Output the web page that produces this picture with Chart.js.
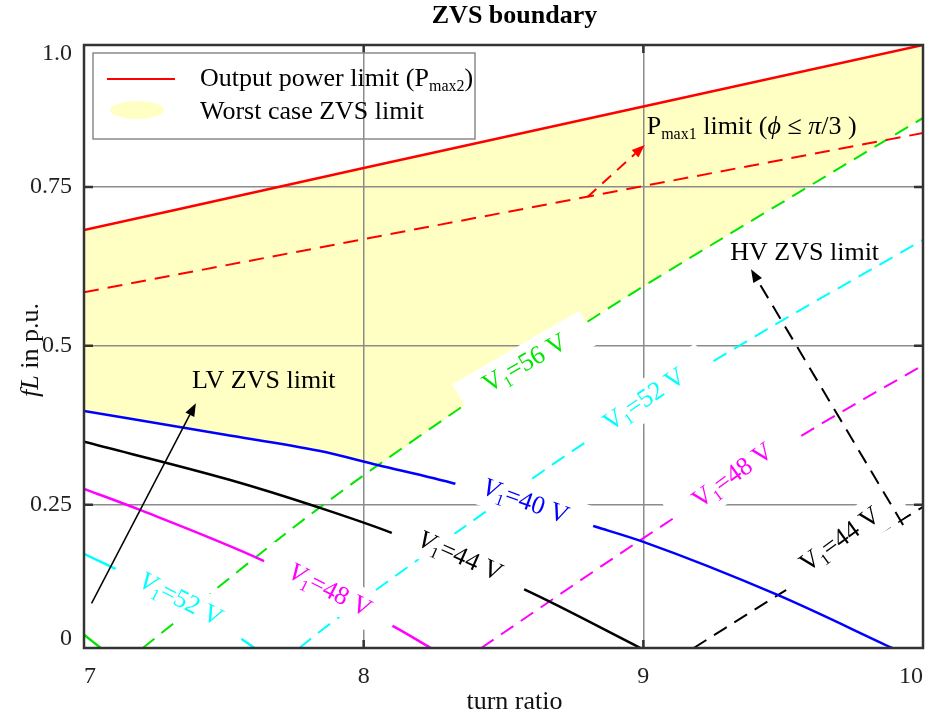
<!DOCTYPE html>
<html>
<head>
<meta charset="utf-8">
<title>ZVS boundary</title>
<script src="https://cdn.jsdelivr.net/npm/chart.js@4.4.1/dist/chart.umd.min.js"></script>
<style>
    html, body { margin: 0; padding: 0; background: #fff; }
    #wrap { width: 937px; height: 719px; }
</style>
</head>
<body>
<div id="wrap"><canvas id="zvsChart" width="937" height="719"></canvas></div>
<script>
// axes
const xTicks = [7, 8, 9, 10];
const yTickValues = [0.015, 0.2376, 0.5013, 0.7645, 0.985];
const yTickLabels = ['0', '0.25', '0.5', '0.75', '1.0'];

// output power limit Pmax2 (solid red) and Pmax1 limit (dashed red)
const pmax2N = [7, 8, 9, 10];
const pmax2FL = [0.693, 0.796, 0.898, 1.0];
const pmax1N = [7, 8, 9, 10];
const pmax1FL = [0.590, 0.678, 0.766, 0.854];

// lower edge of the worst case ZVS area
const worstN = [7, 7.5, 7.84, 8.055, 8.37, 8.81, 8.98, 9.59, 10];
const worstFL = [0.393, 0.354, 0.327, 0.303, 0.406, 0.544, 0.594, 0.765, 0.879];

// LV side ZVS limits (solid)
const lv40N = [7, 7.5, 7.84, 8.05, 8.33, 8.83, 9.0, 9.48, 9.89];
const lv40FL = [0.393, 0.354, 0.327, 0.3035, 0.272, 0.201, 0.176, 0.088, 0];
const lv44N = [7, 7.52, 7.84, 8.1, 8.58, 8.99];
const lv44FL = [0.342, 0.279, 0.233, 0.191, 0.096, 0];
const lv48N = [7, 7.2, 7.64, 8.11, 8.24];
const lv48FL = [0.264, 0.229, 0.145, 0.035, 0];
const lv52N = [7, 7.13, 7.54, 7.61];
const lv52FL = [0.156, 0.127, 0.022, 0];
const lv56N = [7, 7.06];
const lv56FL = [0.022, 0];

// HV side ZVS limits (dashed)
const hv56N = [7.21, 7.84, 8.37, 8.81, 8.98, 9.59, 10];
const hv56FL = [0, 0.232, 0.406, 0.544, 0.594, 0.765, 0.879];
const hv52N = [7.77, 7.84, 8.43, 8.77, 9.27, 10];
const hv52FL = [0, 0.026, 0.224, 0.334, 0.481, 0.677];
const hv48N = [8.42, 8.98, 9.58, 10];
const hv48FL = [0, 0.176, 0.356, 0.469];
const hv44N = [9.18, 9.51, 10];
const hv44FL = [0, 0.096, 0.234];

// V1 labels on the curves
const vLabelVolts = ['56', '52', '48', '44', '40', '44', '48', '52'];
const vLabelN = [8.578, 9.005, 9.321, 9.705, 8.578, 8.344, 7.878, 7.345];
const vLabelFL = [0.471, 0.411, 0.285, 0.179, 0.242, 0.151, 0.0945, 0.0796];
const vLabelDeg = [-30, -34, -36, -36, 20, 24, 27, 27];

// free notes and arrows
const noteText = ['LV ZVS limit', 'HV ZVS limit'];
const noteN = [7.643, 9.577];
const noteFL = [0.443, 0.655];
const pmax1NoteN = 9.012;
const pmax1NoteFL = 0.864;
const arrowFromN = [7.027, 9.929, 8.80];
const arrowFromFL = [0.074, 0.204, 0.748];
const arrowToN = [7.40, 9.385, 9.005];
const arrowToFL = [0.406, 0.628, 0.834];

const SERIF = '"Liberation Serif", "Times New Roman", serif';
const RED = '#ff0000', BLUE = '#0000ff', BLACK = '#000000', MAGENTA = '#ff00ff', CYAN = '#00ffff', GREEN = '#00e600';
const YELLOW = '#ffffc4';
const GRID = '#8c8c8c';
const DASH = [15, 9];
const TXT = 26;

const vLabelColor = [GREEN, CYAN, MAGENTA, BLACK, BLUE, BLACK, MAGENTA, CYAN];
const vLabelItalic = [false, false, false, false, true, true, true, true];
const arrowColor = [BLACK, BLACK, RED];
const arrowDash = [[], DASH, [12, 8]];
const arrowWidth = [1.5, 2, 2];

function pts(xs, ys) {
    return xs.map((v, i) => ({ x: v, y: ys[i] }));
}

function line(label, xs, ys, color, dashed) {
    return {
        label: label,
        data: pts(xs, ys),
        borderColor: color,
        borderWidth: dashed ? 2 : 2.5,
        borderDash: dashed ? DASH : [],
        pointRadius: 0,
        cubicInterpolationMode: 'monotone',
        fill: false
    };
}

const pmax2Set = line('Output power limit (Pmax2)', pmax2N, pmax2FL, RED, false);
pmax2Set.fill = 1;
pmax2Set.backgroundColor = YELLOW;

const worstSet = line('Worst case ZVS limit', worstN, worstFL, 'rgba(0,0,0,0)', false);
worstSet.borderWidth = 0;
worstSet.cubicInterpolationMode = 'default';
worstSet.tension = 0;

const datasets = [
    pmax2Set,
    worstSet,
    line('Pmax1 limit', pmax1N, pmax1FL, RED, true),
    line('V1=40 V LV', lv40N, lv40FL, BLUE, false),
    line('V1=44 V LV', lv44N, lv44FL, BLACK, false),
    line('V1=48 V LV', lv48N, lv48FL, MAGENTA, false),
    line('V1=52 V LV', lv52N, lv52FL, CYAN, false),
    line('V1=56 V LV', lv56N, lv56FL, GREEN, false),
    line('V1=56 V HV', hv56N, hv56FL, GREEN, true),
    line('V1=52 V HV', hv52N, hv52FL, CYAN, true),
    line('V1=48 V HV', hv48N, hv48FL, MAGENTA, true),
    line('V1=44 V HV', hv44N, hv44FL, BLACK, true)
];

// text with sub/italic runs
function setFont(ctx, p, size) {
    const s = p.sub ? Math.round(size * 0.62) : size;
    ctx.font = (p.it ? 'italic ' : '') + (p.b ? 'bold ' : '') + s + 'px ' + SERIF;
}
function richWidth(ctx, parts, size) {
    let w = 0;
    parts.forEach(p => { setFont(ctx, p, size); w += ctx.measureText(p.t).width; });
    return w;
}
function drawRich(ctx, parts, x, y, size, color) {
    ctx.textAlign = 'left';
    ctx.textBaseline = 'middle';
    ctx.fillStyle = color;
    parts.forEach(p => {
        setFont(ctx, p, size);
        ctx.fillText(p.t, x, p.sub ? y + size * 0.3 : y);
        x += ctx.measureText(p.t).width;
    });
}

function drawArrow(ctx, x0, y0, x1, y1, color, dash, lw) {
    const ang = Math.atan2(y1 - y0, x1 - x0);
    const head = 13, half = 5;
    const bx = x1 - head * Math.cos(ang), by = y1 - head * Math.sin(ang);
    ctx.strokeStyle = color;
    ctx.lineWidth = lw;
    ctx.setLineDash(dash);
    ctx.beginPath();
    ctx.moveTo(x0, y0);
    ctx.lineTo(bx, by);
    ctx.stroke();
    ctx.setLineDash([]);
    ctx.fillStyle = color;
    ctx.beginPath();
    ctx.moveTo(x1, y1);
    ctx.lineTo(bx + half * Math.sin(ang), by - half * Math.cos(ang));
    ctx.lineTo(bx - half * Math.sin(ang), by + half * Math.cos(ang));
    ctx.closePath();
    ctx.fill();
}

const overlay = {
    id: 'overlay',
    afterDatasetsDraw(chart) {
        const { ctx, chartArea: a, scales: { x, y } } = chart;
        ctx.save();
        ctx.beginPath();
        ctx.rect(a.left, a.top, a.right - a.left, a.bottom - a.top);
        ctx.clip();

        // V1 labels sit on white boxes that hide the lines underneath
        vLabelVolts.forEach((v, i) => {
            const parts = [{ t: 'V', it: vLabelItalic[i] }, { t: '1', sub: true }, { t: '=' + v + ' V' }];
            ctx.save();
            ctx.translate(x.getPixelForValue(vLabelN[i]), y.getPixelForValue(vLabelFL[i]));
            ctx.rotate(vLabelDeg[i] * Math.PI / 180);
            const w = richWidth(ctx, parts, TXT);
            ctx.fillStyle = '#fff';
            ctx.fillRect(-w / 2 - 27, -19, w + 54, 38);
            drawRich(ctx, parts, -w / 2, 0, TXT, vLabelColor[i]);
            ctx.restore();
        });

        arrowFromN.forEach((n, i) => {
            drawArrow(ctx,
                x.getPixelForValue(n), y.getPixelForValue(arrowFromFL[i]),
                x.getPixelForValue(arrowToN[i]), y.getPixelForValue(arrowToFL[i]),
                arrowColor[i], arrowDash[i], arrowWidth[i]);
        });

        noteText.forEach((t, i) => {
            const parts = [{ t: t }];
            const w = richWidth(ctx, parts, TXT);
            drawRich(ctx, parts, x.getPixelForValue(noteN[i]) - w / 2, y.getPixelForValue(noteFL[i]), TXT, BLACK);
        });

        drawRich(ctx, [
            { t: 'P' }, { t: 'max1', sub: true }, { t: ' limit (' }, { t: '\u03D5', it: true },
            { t: ' ≤ ' }, { t: 'π', it: true }, { t: '/3 )' }
        ], x.getPixelForValue(pmax1NoteN), y.getPixelForValue(pmax1NoteFL), TXT, BLACK);

        ctx.restore();
    },
    afterDraw(chart) {
        const { ctx, chartArea: a, scales: { x, y } } = chart;
        ctx.save();

        // small inner tick marks
        ctx.strokeStyle = '#333';
        ctx.lineWidth = 2.5;
        ctx.beginPath();
        xTicks.slice(1, -1).forEach(v => {
            const px = x.getPixelForValue(v);
            ctx.moveTo(px, a.bottom); ctx.lineTo(px, a.bottom - 8);
            ctx.moveTo(px, a.top); ctx.lineTo(px, a.top + 8);
        });
        yTickValues.slice(1, -1).forEach(v => {
            const py = y.getPixelForValue(v);
            ctx.moveTo(a.left, py); ctx.lineTo(a.left + 9, py);
            ctx.moveTo(a.right, py); ctx.lineTo(a.right - 9, py);
        });
        ctx.stroke();

        // frame
        ctx.lineWidth = 2.5;
        ctx.strokeRect(a.left, a.top, a.right - a.left, a.bottom - a.top);

        // legend
        const lx = a.left + 9, ly = a.top + 8;
        ctx.strokeStyle = '#8a8a8a';
        ctx.lineWidth = 1.5;
        ctx.strokeRect(lx, ly, 382, 86);
        ctx.strokeStyle = RED;
        ctx.lineWidth = 2;
        ctx.beginPath();
        ctx.moveTo(lx + 14, ly + 26); ctx.lineTo(lx + 82, ly + 26);
        ctx.stroke();
        ctx.fillStyle = YELLOW;
        ctx.beginPath();
        ctx.ellipse(lx + 44, ly + 57, 27, 9, 0, 0, Math.PI * 2);
        ctx.fill();
        drawRich(ctx, [{ t: 'Output power limit (P' }, { t: 'max2', sub: true }, { t: ')' }], lx + 107, ly + 26, TXT, BLACK);
        drawRich(ctx, [{ t: 'Worst case ZVS limit' }], lx + 107, ly + 59, TXT, BLACK);

        // title
        const titleParts = [{ t: 'ZVS boundary', b: true }];
        const cx = (a.left + a.right) / 2 + 11;
        drawRich(ctx, titleParts, cx - richWidth(ctx, titleParts, TXT) / 2, 16, TXT, BLACK);

        // axis titles
        const xt = [{ t: 'turn ratio' }];
        drawRich(ctx, xt, cx - richWidth(ctx, xt, TXT) / 2, 702, TXT, '#111');
        const yt = [{ t: 'fL', it: true }, { t: ' in p.u.' }];
        ctx.translate(31, 350);
        ctx.rotate(-Math.PI / 2);
        drawRich(ctx, yt, -richWidth(ctx, yt, TXT) / 2, 0, TXT, '#111');

        ctx.restore();
    }
};

new Chart(document.getElementById('zvsChart'), {
    type: 'line',
    data: { datasets: datasets },
    options: {
        responsive: false,
        animation: false,
        devicePixelRatio: 1,
        layout: { padding: { top: 45, right: 9, left: 0, bottom: 0 } },
        plugins: {
            legend: { display: false },
            tooltip: { enabled: false },
            filler: { drawTime: 'beforeDraw' }
        },
        scales: {
            x: {
                type: 'linear',
                min: 7,
                max: 10,
                afterBuildTicks: s => { s.ticks = xTicks.map(v => ({ value: v })); },
                afterFit: s => { s.height = 71; },
                ticks: {
                    align: 'inner',
                    padding: 14,
                    color: '#222',
                    font: { family: SERIF, size: 24 },
                    callback: v => String(v)
                },
                grid: {
                    drawTicks: false,
                    lineWidth: 1.5,
                    color: c => (c.index === 0 || c.index === xTicks.length - 1) ? 'rgba(0,0,0,0)' : GRID
                },
                border: { display: false }
            },
            y: {
                type: 'linear',
                min: 0,
                max: 1,
                afterBuildTicks: s => { s.ticks = yTickValues.map(v => ({ value: v })); },
                afterFit: s => { s.width = 84; },
                ticks: {
                    padding: 12,
                    color: '#222',
                    font: { family: SERIF, size: 24 },
                    callback: (v, i) => yTickLabels[i]
                },
                grid: {
                    drawTicks: false,
                    lineWidth: 1.5,
                    color: c => (c.index === 0 || c.index === yTickValues.length - 1) ? 'rgba(0,0,0,0)' : GRID
                },
                border: { display: false }
            }
        }
    },
    plugins: [overlay]
});
</script>
</body>
</html>
